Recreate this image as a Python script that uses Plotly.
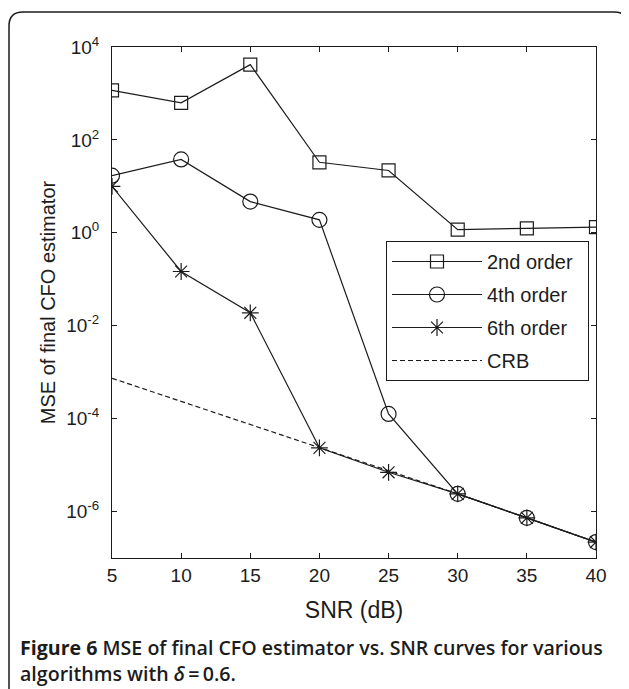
import plotly.graph_objects as go

snr_db = [5, 10, 15, 20, 25, 30, 35, 40]
mse_2nd = [1160, 630, 4170, 33, 22, 1.17, 1.25, 1.32]
mse_4th = [17, 38, 4.7, 1.9, 1.26e-4, 2.4e-6, 7.3e-7, 2.2e-7]
mse_6th = [10, 0.147, 0.019, 2.35e-5, 7.0e-6, 2.4e-6, 7.3e-7, 2.2e-7]
crb = [7.4e-4, 2.35e-4, 7.4e-5, 2.35e-5, 7.4e-6, 2.4e-6, 7.3e-7, 2.2e-7]

y_tick_vals = [1e-6, 1e-4, 1e-2, 1e0, 1e2, 1e4]
y_tick_text = ["10<sup>-6</sup>", "10<sup>-4</sup>", "10<sup>-2</sup>",
               "10<sup>0</sup>", "10<sup>2</sup>", "10<sup>4</sup>"]

INK = "#1c1c1c"
FONT = "Liberation Sans, Arial, sans-serif"
PAD = "\u2002"  # right padding inside the legend box

fig = go.Figure()
series = [
    ("2nd order", mse_2nd, "square-open", 13),
    ("4th order", mse_4th, "circle-open", 15),
    ("6th order", mse_6th, "asterisk-open", 14),
]
for i, (name, vals, sym, sz) in enumerate(series):
    fig.add_trace(go.Scatter(
        x=snr_db, y=vals, name=name + PAD, mode="lines+markers",
        legendgroup=f"g{i}",
        line=dict(color=INK, width=1.2),
        marker=dict(symbol=sym, size=sz, color=INK, line=dict(color=INK, width=1.2)),
    ))
fig.add_trace(go.Scatter(
    x=snr_db, y=crb, name="CRB" + PAD, mode="lines", legendgroup="g3",
    line=dict(color=INK, width=1.2, dash="5px,3px"),
))

# page body adds an 8px offset; work in window pixels and convert
OFF = 8
WIN_W, WIN_H = 629, 689
W, H = WIN_W - OFF, WIN_H - OFF
PL, PR, PT, PB = 112, 596, 47, 558   # plot area in window pixels
L, R, T, B = PL - OFF, W - (PR - OFF), PT - OFF, H - (PB - OFF)
pw, ph = W - L - R, H - T - B

def px(x):
    return (x - PL) / pw

def py(y):
    return (PB - y) / ph

fig.update_layout(
    width=W, height=H,
    margin=dict(l=L, r=R, t=T, b=B),
    paper_bgcolor="white", plot_bgcolor="white",
    font=dict(family=FONT, size=19, color=INK),
    showlegend=True,
    legend=dict(
        x=px(589), y=py(241), xanchor="right", yanchor="top",
        bordercolor=INK, borderwidth=1, bgcolor="white",
        font=dict(size=20), itemwidth=90,
        traceorder="grouped", tracegroupgap=4,
    ),
    xaxis=dict(
        range=[5, 40], tickvals=snr_db, ticks="inside", ticklen=5,
        showline=True, linecolor=INK, linewidth=1, mirror="ticks",
        showgrid=False, zeroline=False, tickcolor=INK,
        title=dict(text="SNR (dB)", standoff=17),
    ),
    yaxis=dict(
        type="log", range=[-7, 4], tickvals=y_tick_vals, ticktext=y_tick_text,
        ticks="inside", ticklen=5, tickcolor=INK,
        showline=True, linecolor=INK, linewidth=1, mirror="ticks",
        showgrid=False, zeroline=False, ticklabelstandoff=8,
        title=dict(text="MSE of final CFO estimator", standoff=5,
                   font=dict(family=FONT, size=20, color=INK)),
    ),
)

# rounded frame around the figure
x0, x1 = px(9), px(628)
y0, y1 = py(12), py(700)
rx, ry = 14 / pw, 14 / ph
path = (f"M {x0},{y1} L {x0},{y0 - ry} Q {x0},{y0} {x0 + rx},{y0} "
        f"L {x1 - rx},{y0} Q {x1},{y0} {x1},{y0 - ry} L {x1},{y1}")
fig.add_shape(type="path", path=path, xref="paper", yref="paper",
              line=dict(color=INK, width=1.5))

CAP_FONT = dict(family="Open Sans, Noto Sans, sans-serif", size=19.6, color=INK, weight=600)
fig.add_annotation(
    text="<b>Figure 6</b> MSE of final CFO estimator vs. SNR curves for various",
    x=px(18), y=py(647), xref="paper", yref="paper",
    xanchor="left", yanchor="middle", showarrow=False, font=CAP_FONT,
)
fig.add_annotation(
    text="algorithms with <i>δ</i>\u2009=\u20090.6.",
    x=px(18), y=py(673), xref="paper", yref="paper",
    xanchor="left", yanchor="middle", showarrow=False, font=CAP_FONT,
)

fig.write_html("out.html")
